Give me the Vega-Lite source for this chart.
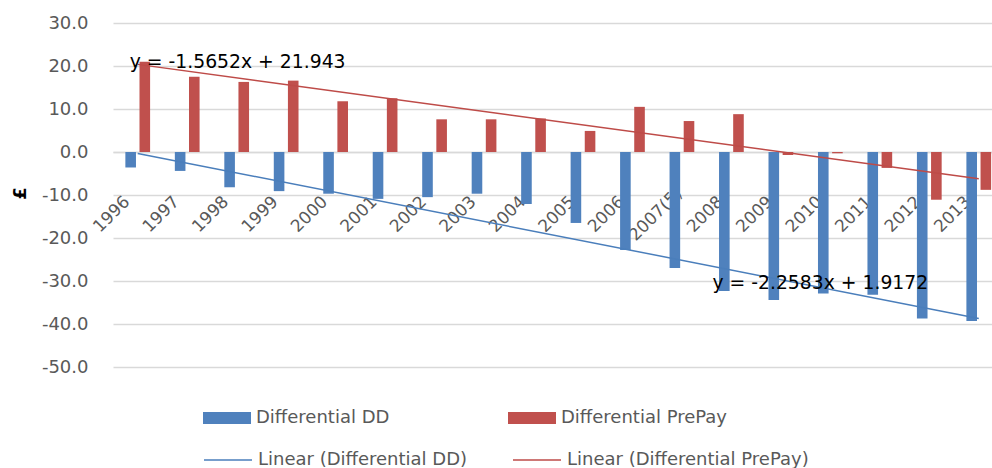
{
  "$schema": "https://vega.github.io/schema/vega-lite/v6.json",
  "width": 879,
  "height": 344,
  "autosize": {"type": "none"},
  "padding": {"left": 113, "top": 23, "right": 0, "bottom": 101},
  "background": "white",
  "config": {
    "view": {"stroke": null},
    "font": "DejaVu Sans",
    "locale": {"number": {"decimal": ".", "thousands": ",", "grouping": [3], "currency": ["£", ""], "minus": "-"}}
  },
  "datasets": {
    "bars": [
      {"year": "1996", "series": "Differential DD", "value": -3.6},
      {"year": "1997", "series": "Differential DD", "value": -4.4},
      {"year": "1998", "series": "Differential DD", "value": -8.2},
      {"year": "1999", "series": "Differential DD", "value": -9.1},
      {"year": "2000", "series": "Differential DD", "value": -9.7},
      {"year": "2001", "series": "Differential DD", "value": -10.9},
      {"year": "2002", "series": "Differential DD", "value": -10.5},
      {"year": "2003", "series": "Differential DD", "value": -9.7},
      {"year": "2004", "series": "Differential DD", "value": -12.1},
      {"year": "2005", "series": "Differential DD", "value": -16.5},
      {"year": "2006", "series": "Differential DD", "value": -22.8},
      {"year": "2007(5)", "series": "Differential DD", "value": -27.0},
      {"year": "2008", "series": "Differential DD", "value": -32.3},
      {"year": "2009", "series": "Differential DD", "value": -34.4},
      {"year": "2010", "series": "Differential DD", "value": -32.9},
      {"year": "2011", "series": "Differential DD", "value": -33.2},
      {"year": "2012", "series": "Differential DD", "value": -38.7},
      {"year": "2013", "series": "Differential DD", "value": -39.3},
      {"year": "1996", "series": "Differential PrePay", "value": 21.0},
      {"year": "1997", "series": "Differential PrePay", "value": 17.5},
      {"year": "1998", "series": "Differential PrePay", "value": 16.3},
      {"year": "1999", "series": "Differential PrePay", "value": 16.6},
      {"year": "2000", "series": "Differential PrePay", "value": 11.8},
      {"year": "2001", "series": "Differential PrePay", "value": 12.5},
      {"year": "2002", "series": "Differential PrePay", "value": 7.6},
      {"year": "2003", "series": "Differential PrePay", "value": 7.6},
      {"year": "2004", "series": "Differential PrePay", "value": 7.8},
      {"year": "2005", "series": "Differential PrePay", "value": 4.9},
      {"year": "2006", "series": "Differential PrePay", "value": 10.5},
      {"year": "2007(5)", "series": "Differential PrePay", "value": 7.2},
      {"year": "2008", "series": "Differential PrePay", "value": 8.8},
      {"year": "2009", "series": "Differential PrePay", "value": -0.7},
      {"year": "2010", "series": "Differential PrePay", "value": -0.3},
      {"year": "2011", "series": "Differential PrePay", "value": -3.7},
      {"year": "2012", "series": "Differential PrePay", "value": -11.1},
      {"year": "2013", "series": "Differential PrePay", "value": -8.8}
    ],
    "trends": [
      {"year": "1996", "series": "Linear (Differential DD)", "value": -0.3411},
      {"year": "2013", "series": "Linear (Differential DD)", "value": -38.7322},
      {"year": "1996", "series": "Linear (Differential PrePay)", "value": 20.3778},
      {"year": "2013", "series": "Linear (Differential PrePay)", "value": -6.2306}
    ],
    "eq1": [{"year": "1996", "value": 19.55, "label": "y = -1.5652x + 21.943"}],
    "eq2": [{"year": "2008", "value": -31.85, "label": "y = -2.2583x + 1.9172"}]
  },
  "layer": [
    {
      "data": {"name": "bars"},
      "mark": {"type": "bar"},
      "encoding": {
        "x": {
          "field": "year", "type": "nominal", "sort": null,
          "scale": {
            "domain": ["1996","1997","1998","1999","2000","2001","2002","2003","2004","2005","2006","2007(5)","2008","2009","2010","2011","2012","2013"],
            "range": [0, 890.5], "paddingInner": 0.5, "paddingOuter": 0.25
          },
          "axis": {
            "title": null, "orient": "bottom", "offset": -215, "labelAngle": -45,
            "labelAlign": "center", "labelBaseline": "middle", "labelPadding": 62, "labelOffset": -26,
            "ticks": false, "tickSize": 0, "domainColor": "#d9d9d9", "domainWidth": 1.3,
            "labelFont": "DejaVu Sans", "labelFontSize": 17, "labelColor": "#595959",
            "grid": false, "labelOverlap": false, "labelBound": false, "labelLimit": 300
          }
        },
        "xOffset": {
          "field": "series", "type": "nominal",
          "scale": {"domain": ["Differential DD", "Differential PrePay"], "paddingInner": 0.25, "paddingOuter": 0}
        },
        "y": {
          "field": "value", "type": "quantitative",
          "scale": {"domain": [-50, 30], "nice": false, "zero": false},
          "axis": {
            "title": "£", "values": [-50, -40, -30, -20, -10, 0, 10, 20, 30], "format": ".1f",
            "domain": false, "ticks": false, "labelPadding": 25,
            "labelFont": "DejaVu Sans", "labelFontSize": 18, "labelColor": "#595959",
            "gridColor": "#d9d9d9", "gridWidth": 1.3,
            "titleFont": "DejaVu Sans", "titleFontSize": 18, "titleFontWeight": "bold", "titleColor": "#000000",
            "titleX": -93, "titleY": 170, "titleAngle": 270, "titleBaseline": "middle", "titleAlign": "center"
          }
        },
        "color": {
          "field": "series", "type": "nominal",
          "scale": {"domain": ["Differential DD", "Differential PrePay"], "range": ["#4F81BD", "#C0504D"]},
          "legend": {
            "title": null, "orient": "none", "legendX": 90, "legendY": 371,
            "direction": "horizontal", "columns": 2, "columnPadding": 118,
            "symbolType": "M-1,-0.25H1V0.25H-1Z", "symbolSize": 2304, "symbolStrokeWidth": 0,
            "labelFont": "DejaVu Sans", "labelFontSize": 18, "labelColor": "#595959",
            "labelOffset": 5, "labelLimit": 400
          }
        }
      }
    },
    {
      "data": {"name": "trends"},
      "mark": {"type": "line", "strokeWidth": 1.5},
      "encoding": {
        "x": {"field": "year", "type": "nominal", "sort": null},
        "y": {"field": "value", "type": "quantitative"},
        "stroke": {
          "field": "series", "type": "nominal",
          "scale": {"domain": ["Linear (Differential DD)", "Linear (Differential PrePay)"], "range": ["#4A7EBB", "#BE4B48"]},
          "legend": {
            "title": null, "orient": "none", "legendX": 90, "legendY": 412,
            "direction": "horizontal", "columns": 2, "columnPadding": 42,
            "symbolType": "M-1,0H1", "symbolSize": 2304, "symbolStrokeWidth": 1.5,
            "labelFont": "DejaVu Sans", "labelFontSize": 18, "labelColor": "#595959",
            "labelOffset": 5, "labelLimit": 400
          }
        }
      }
    },
    {
      "data": {"name": "eq1"},
      "mark": {"type": "text", "align": "left", "baseline": "alphabetic", "dx": -8, "font": "DejaVu Sans", "fontSize": 18.8, "color": "#000000"},
      "encoding": {
        "x": {"field": "year", "type": "nominal", "sort": null},
        "y": {"field": "value", "type": "quantitative"},
        "text": {"field": "label", "type": "nominal"}
      }
    },
    {
      "data": {"name": "eq2"},
      "mark": {"type": "text", "align": "left", "baseline": "alphabetic", "dx": -19, "font": "DejaVu Sans", "fontSize": 18.8, "color": "#000000"},
      "encoding": {
        "x": {"field": "year", "type": "nominal", "sort": null},
        "y": {"field": "value", "type": "quantitative"},
        "text": {"field": "label", "type": "nominal"}
      }
    }
  ]
}
